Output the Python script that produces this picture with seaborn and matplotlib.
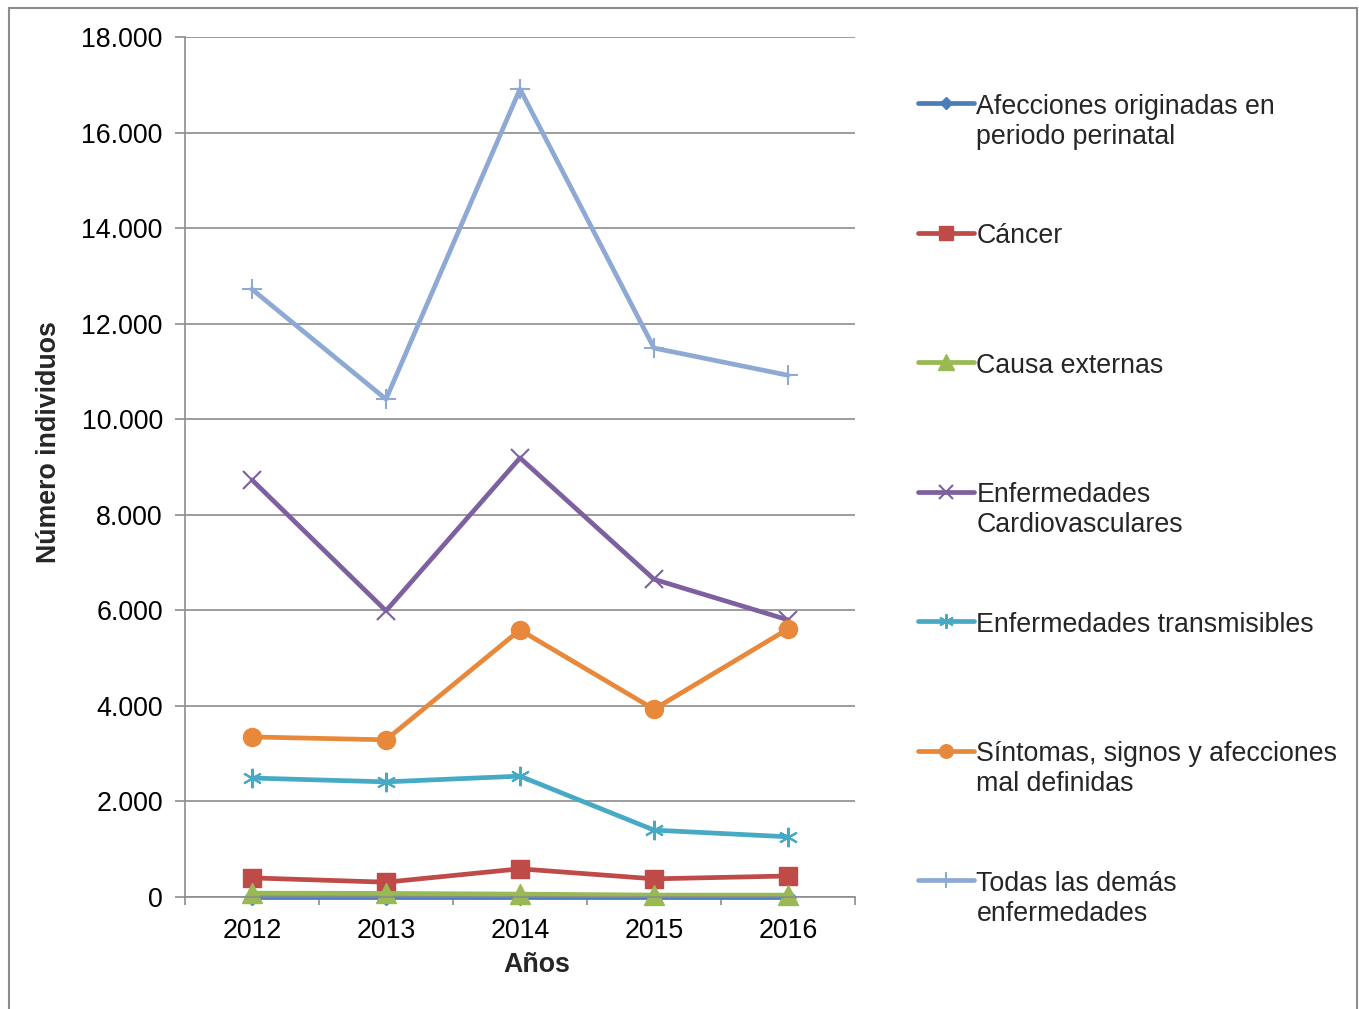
import matplotlib
matplotlib.use("Agg")
import matplotlib.pyplot as plt
import seaborn as sns
import pandas as pd
import numpy as np
from matplotlib.ticker import FuncFormatter, FixedLocator
from matplotlib.patches import Rectangle

years = [2012, 2013, 2014, 2015, 2016]
categories = [
    "Afecciones originadas en\nperiodo perinatal",
    "Cáncer",
    "Causa externas",
    "Enfermedades\nCardiovasculares",
    "Enfermedades transmisibles",
    "Síntomas, signos y afecciones\nmal definidas",
    "Todas las demás\nenfermedades",
]
perinatal = [10, 10, 10, 10, 10]
cancer = [400, 310, 590, 380, 440]
externas = [80, 75, 60, 40, 40]
cardio = [8730, 5990, 9190, 6650, 5800]
transmisibles = [2490, 2410, 2530, 1400, 1260]
sintomas = [3350, 3290, 5590, 3930, 5610]
demas = [12720, 10420, 16910, 11490, 10920]
series = [perinatal, cancer, externas, cardio, transmisibles, sintomas, demas]

colors = ["#4A7EBB", "#BE4B48", "#98B954", "#7D60A0", "#46AAC5", "#E8883A", "#8EA9D3"]
markers = ["D", "s", "^", "x", (6, 2, 0), "o", "+"]
msizes = [8, 13, 15, 13, 14, 13, 15]
LINEART = ("x", "+", (6, 2, 0))
FS = 19.3

sns.set_theme(style="white")
plt.rcParams["font.family"] = ["Liberation Sans", "DejaVu Sans"]

fig = plt.figure(figsize=(13.59, 10.09), dpi=100)
ax = fig.add_axes([185 / 1359, 1 - 897 / 1009, (855 - 185) / 1359, (897 - 37) / 1009])

for cat, vals, c, m, s in zip(categories, series, colors, markers, msizes):
    d = pd.DataFrame({"Año": years, "Valor": vals})
    sns.lineplot(data=d, x="Año", y="Valor", color=c, marker=m, markersize=s,
                 markerfacecolor=c, markeredgecolor=c,
                 markeredgewidth=1.5 if m in LINEART else 1.0,
                 linewidth=3.4, ax=ax, legend=False, clip_on=False)

ax.set_xlim(2011.5, 2016.5)
ax.set_ylim(0, 18000)
ax.yaxis.set_major_locator(FixedLocator(np.arange(0, 18001, 2000)))
ax.yaxis.set_major_formatter(FuncFormatter(lambda v, p: f"{int(v):,}".replace(",", ".")))
ax.set_xticks(years)
ax.set_xticklabels([str(y) for y in years])
ax.set_xticks(np.arange(2011.5, 2016.6, 1), minor=True)
ax.tick_params(axis="x", which="major", length=0, labelsize=FS, pad=15, colors="black")
ax.tick_params(axis="x", which="minor", length=6, width=1.2, color="#8c8c8c", direction="out")
ax.tick_params(axis="y", which="major", length=7, width=1.2, color="#8c8c8c", direction="out",
               labelsize=FS, pad=9, labelcolor="black")
ax.xaxis.set_ticks_position("bottom")
ax.yaxis.set_ticks_position("left")
ax.grid(axis="y", color="#8c8c8c", linewidth=1.2)
ax.grid(axis="x", visible=False)
ax.set_axisbelow(True)
for side in ["top", "right"]:
    ax.spines[side].set_visible(False)
for side in ["left", "bottom"]:
    ax.spines[side].set_color("#8c8c8c")
    ax.spines[side].set_linewidth(1.2)

ax.set_xlabel("Años", fontsize=FS, fontweight="bold", labelpad=6)
ax.set_ylabel("Número individuos", fontsize=FS, fontweight="bold", labelpad=14)
ax.xaxis.label.set_x(0.525)
ax.yaxis.label.set_y(0.529)

# legend
handles = []
for c, m, s in zip(colors, markers, msizes):
    h = plt.Line2D([], [], color=c, marker=m, markersize=s * 0.75, linewidth=3.4,
                   markerfacecolor=c, markeredgecolor=c,
                   markeredgewidth=1.5 if m in LINEART else 1.0)
    handles.append(h)
labels = [lab if "\n" in lab else lab + "\n " for lab in categories]
leg = fig.legend(handles, labels, loc="upper left",
                 bbox_to_anchor=(918 / 1359, 1 - 94 / 1009),
                 frameon=False, fontsize=FS, handlelength=2.1, handletextpad=0.08,
                 labelspacing=2.74, borderpad=0, borderaxespad=0)
try:
    for col in leg._legend_handle_box.get_children():
        for hp in col.get_children():
            hp.align = "top"
except Exception:
    pass

fig.patches.append(Rectangle((9 / 1359, -0.05), 1 - 11 / 1359, 1.05 - 8 / 1009,
                             transform=fig.transFigure, fill=False,
                             edgecolor="#8c8c8c", linewidth=1.5))

fig.savefig("out.png", dpi=100)
